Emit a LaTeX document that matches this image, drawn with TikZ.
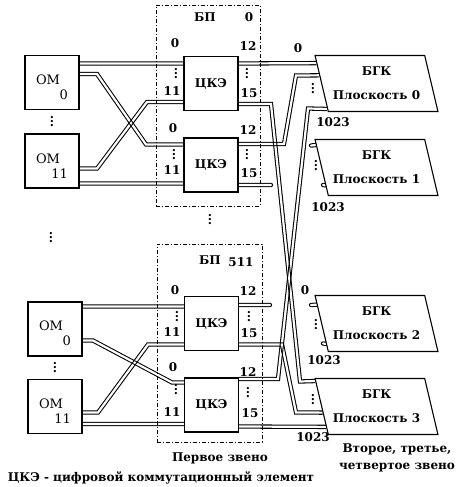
\documentclass[tikz,border=0pt]{standalone}
\usepackage{fontspec}
\setmainfont{DejaVu Serif}
\usetikzlibrary{calc,shapes.geometric}
\pgfdeclarelayer{background}
\pgfsetlayers{background,main}
\tikzstyle{om}=[rectangle,
                draw,
                fill=white,
                line width=1.1pt,
                minimum width=54pt,
                minimum height=54pt,
                inner sep=0pt,
                text width=32pt,
                align=left,
                font=\fontsize{13}{15}\selectfont]
\tikzstyle{cke}=[rectangle,
                 draw,
                 fill=white,
                 line width=1.3pt,
                 minimum width=54pt,
                 minimum height=54pt,
                 inner sep=0pt]
\tikzstyle{bgk}=[trapezium,
                 draw,
                 fill=white,
                 line width=1.1pt,
                 trapezium left angle=110,
                 trapezium right angle=70,
                 trapezium stretches=true,
                 minimum width=123pt,
                 minimum height=56pt,
                 inner sep=0pt,
                 align=center]
\tikzstyle{bp}=[rectangle,
                draw,
                line width=0.7pt,
                dash pattern=on 4pt off 2pt on 1pt off 2pt]
\tikzstyle{wire}=[double, double distance=2.2pt, line width=1.05pt]
\tikzstyle{stub}=[line cap=round]
\newcommand{\vdts}{\vbox{\baselineskip4pt\lineskiplimit0pt\hbox{.}\hbox{.}\hbox{.}}}
\newcommand{\cable}[2][]{\begin{scope}[blend mode=multiply]\begin{scope}[transparency group]%
  \draw[wire,blend mode=normal,#1] #2;\end{scope}\end{scope}}

\begin{document}
\begin{tikzpicture}[x=1pt,y=-1pt,inner sep=0pt,
    every node/.style={font=\fontsize{12}{14}\selectfont\bfseries}]
  \useasboundingbox (0,0) rectangle (470,487);

  \node[bp, minimum width=104pt, minimum height=201pt] (bp0) at (208,105.5) {};
  \node[bp, minimum width=105pt, minimum height=198pt] (bp1) at (209.5,343) {};

  \node[om] (om1) at (52,82.5)  {\rule{0pt}{19pt}ОМ\\\hspace*{\fill}0};
  \node[om] (om2) at (52,161)   {\rule{0pt}{19pt}ОМ\\\hspace*{\fill}11};
  \node[om] (om3) at (55,329)   {\rule{0pt}{19pt}ОМ\\\hspace*{\fill}0};
  \node[om] (om4) at (55,406.5) {\rule{0pt}{19pt}ОМ\\\hspace*{\fill}11};

  \node[cke] (cke1) at (211,83.5)  {ЦКЭ};
  \node[cke] (cke2) at (211,165)   {ЦКЭ};
  \node[cke] (cke3) at (211.5,323.5) {ЦКЭ};
  \node[cke] (cke4) at (211.5,405) {ЦКЭ};

  \node[bgk] (bgk0) at (376.5,83.5)  {БГК\\[10pt]Плоскость 0};
  \node[bgk] (bgk1) at (376.5,167.5) {БГК\\[10pt]Плоскость 1};
  \node[bgk] (bgk2) at (376.5,323.5) {БГК\\[10pt]Плоскость 2};
  \node[bgk] (bgk3) at (376.5,406.5) {БГК\\[10pt]Плоскость 3};

  \node (bpl0) at (205,17) {БП};
  \node (bpn0) at (249,17) {0};
  \node (bpl1) at (210,260) {БП};
  \node (bpn1) at (241,262) {511};

  \node (in0a)   at (175,43)  {0};
  \node (in11a)  at (172,91)  {11};
  \node (out12a) at (248,46)  {12};
  \node (out15a) at (249,93)  {15};
  \node (in0b)   at (173,128) {0};
  \node (in11b)  at (172,170) {11};
  \node (out12b) at (248,130) {12};
  \node (out15b) at (249,173) {15};
  \node (in0c)   at (175,290) {0};
  \node (in11c)  at (172,332) {11};
  \node (out12c) at (248,291) {12};
  \node (out15c) at (249,333) {15};
  \node (in0d)   at (173,367) {0};
  \node (in11d)  at (172,412) {11};
  \node (out12d) at (248,372) {12};
  \node (out15d) at (250,413) {15};

  \node (pl0a) at (298,48)  {0};
  \node (pl0b) at (333,122) {1023};
  \node (pl1b) at (328,207) {1023};
  \node (pl2a) at (305,290) {0};
  \node (pl2b) at (324,360) {1023};
  \node (pl3b) at (313,437) {1023};

  \node (da1) at (176,74)  {\vdts};
  \node (da2) at (247,74)  {\vdts};
  \node (db1) at (174,155) {\vdts};
  \node (db2) at (247,155) {\vdts};
  \node (dc1) at (177,317) {\vdts};
  \node (dc2) at (249,317) {\vdts};
  \node (dd1) at (176,390) {\vdts};
  \node (dd2) at (248,393) {\vdts};
  \node (dom1) at (52,122) {\vdts};
  \node (dom2) at (51,238) {\vdts};
  \node (dom3) at (55,368) {\vdts};
  \node (dbp)  at (210,220) {\vdts};
  \node (dpl0) at (313,89)  {\vdts};
  \node (dpl1) at (316,166) {\vdts};
  \node (dpl2) at (316,325) {\vdts};
  \node (dpl3) at (313,400) {\vdts};

  \node (first)  at (220,458) {Первое звено};
  \node[align=center] (second) at (397,458) {Второе, третье,\\[3pt]четвертое звено};
  \node (legend) at (161,478) {ЦКЭ - цифровой коммутационный элемент};

  \coordinate (s1) at (271,185);
  \coordinate (s2) at (270,305);
  \coordinate (s3) at (311,145.5);
  \coordinate (s4) at (323,185);
  \coordinate (s5) at (311,305);
  \coordinate (s6) at (323,343.5);

  \begin{pgfonlayer}{background}
    \cable{(om1.east |- 0,63.5) -- (cke1.west |- 0,63.5)}
    \cable{(om1.east |- 0,74) -- (97,74) -- (146,144.5) -- (cke2.west |- 0,144.5)}
    \cable{(om2.east |- 0,168.5) -- (97,168.5) -- (147,102) -- (cke1.west |- 0,102)}
    \cable{(om2.east |- 0,183.5) -- (cke2.west |- 0,183.5)}
    \cable{(om3.east |- 0,306.5) -- (cke3.west |- 0,306.5)}
    \cable{(om3.east |- 0,340.5) -- (93,340.5) -- (172,382.5) -- (cke4.west |- 0,382.5)}
    \cable{(om4.east |- 0,412.5) -- (98,412.5) -- (148,344.5) -- (cke3.west |- 0,344.5)}
    \cable{(om4.east |- 0,424) -- (cke4.west |- 0,424)}

    \cable{(cke1.east |- 0,63.5) -- ($(bgk0.top left corner)!0.143!(bgk0.bottom left corner)$)}
    \cable{(cke1.east |- 0,104) -- (271,104) -- (300,381.5) -- ($(bgk3.top left corner)!0.054!(bgk3.bottom left corner)$)}
    \cable{(cke2.east |- 0,144) -- (284,144) -- (296,75.5) -- ($(bgk0.top left corner)!0.357!(bgk0.bottom left corner)$)}
    \cable[stub]{(cke2.east |- 0,185) -- (s1)}
    \cable[stub]{(cke3.east |- 0,305) -- (s2)}
    \cable{(cke3.east |- 0,344.5) -- (282,344.5) -- (296,412.5) -- ($(bgk3.top left corner)!0.607!(bgk3.bottom left corner)$)}
    \cable{(cke4.east |- 0,379) -- (278,379) -- (308,108.5) -- ($(bgk0.top left corner)!0.946!(bgk0.bottom left corner)$)}
    \cable{(cke4.east |- 0,426.5) -- ($(bgk3.top left corner)!0.857!(bgk3.bottom left corner)$)}

    \cable[stub]{(s3) -- ($(bgk1.top left corner)!0.107!(bgk1.bottom left corner)$)}
    \cable[stub]{(s4) -- ($(bgk1.top left corner)!0.8125!(bgk1.bottom left corner)$)}
    \cable[stub]{(s5) -- ($(bgk2.top left corner)!0.17!(bgk2.bottom left corner)$)}
    \cable[stub]{(s6) -- ($(bgk2.top left corner)!0.857!(bgk2.bottom left corner)$)}
  \end{pgfonlayer}
\end{tikzpicture}
\end{document}
